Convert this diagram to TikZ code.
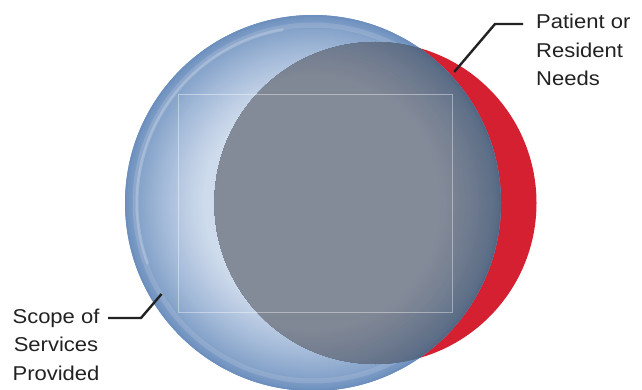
\documentclass[tikz,border=0pt]{standalone}
\usepackage{fontspec}
\setmainfont{Liberation Sans}[FakeStretch=1.1]
\usetikzlibrary{calc}

\definecolor{needred}{RGB}{212,32,48}
\definecolor{bubin}{RGB}{205,218,236}
\definecolor{bubout}{RGB}{108,143,190}
\definecolor{overin}{RGB}{128,135,149}
\definecolor{overout}{RGB}{84,104,132}
\definecolor{leadcol}{RGB}{34,34,34}

\begin{document}
\begin{tikzpicture}[x=1pt, y=-1pt]
\tikzstyle{disk}=[circle, inner sep=0pt, outer sep=0pt]
\tikzstyle{lbl}=[inner sep=0pt, font=\fontsize{20}{28.5}\selectfont, text=leadcol]
\tikzstyle{leader}=[draw=leadcol, line width=2.4pt]
\tikzstyle{gloss}=[white, line cap=round]
\useasboundingbox (0,0) rectangle (642,390);
\clip (0,0) rectangle (642,390);

% red disc behind, blue disc in front
\node[disk, fill=needred, minimum size=322pt] (needsdisk) at (375.5,203) {};
\node[disk, fill=bubout, minimum size=376pt] (scopedisk) at (313,203) {};
\foreach \k in {0,...,39} {
  \pgfmathsetmacro{\p}{100*(\k/39)^0.75}
  \fill[bubin!\p!bubout] (scopedisk.center) circle[radius=188-2*\k];
}
\draw[gloss, line width=5pt, opacity=0.12] (scopedisk.center) circle[radius=178];
\draw[gloss, line width=3pt, opacity=0.2] (scopedisk.center) ++(-100:176) arc[start angle=-100, end angle=-200, radius=176];

% where they overlap
\begin{scope}
\clip (needsdisk.center) circle[radius=161];
\foreach \k in {0,...,30} {
  \pgfmathsetmacro{\p}{100*(\k/30)^0.7}
  \fill[overin!\p!overout] (scopedisk.center) circle[radius=188-2*\k];
}
\end{scope}

% faint square
\draw[white, opacity=0.4, line width=0.8pt, fill=white, fill opacity=0.03] (178,94) rectangle (452,312);

% labels
\node[lbl, anchor=base west, align=left] (needs) at (536,86) {Patient or\\Resident\\Needs};
\node[lbl, anchor=base, align=center] (scope) at (56,380) {Scope of\\Services\\Provided};

\coordinate (needtip) at ($(needsdisk.center)!0.95!(needsdisk.59)$);
\coordinate (needbend) at (495,24);
\coordinate (needend) at (523,24);
\draw[leader] (needtip) -- (needbend) -- (needend);

\coordinate (scopetip) at ($(scopedisk.center)!0.94!(scopedisk.211)$);
\coordinate (scopebend) at (141,318);
\coordinate (scopeend) at (108,318);
\draw[leader] (scopetip) -- (scopebend) -- (scopeend);
\end{tikzpicture}
\end{document}
